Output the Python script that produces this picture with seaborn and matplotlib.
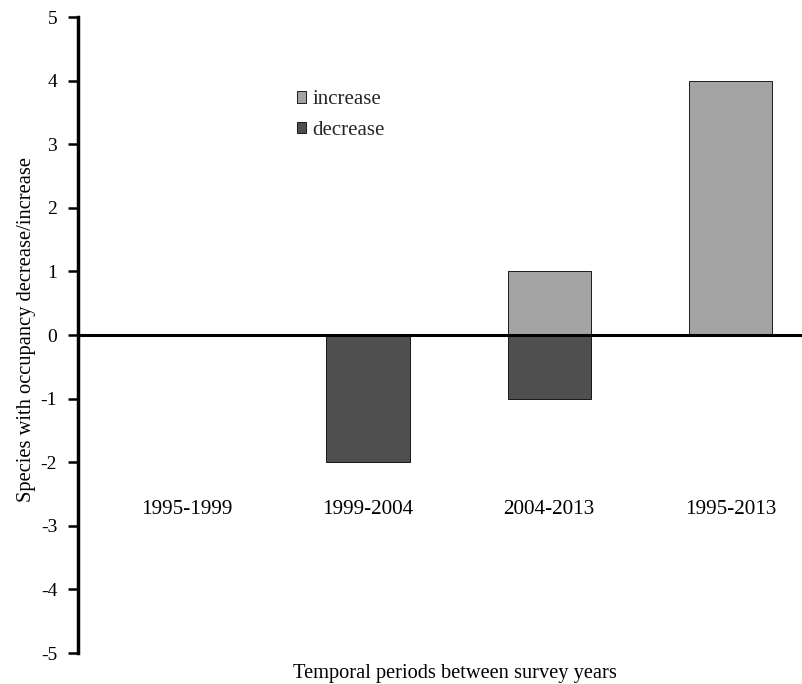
import matplotlib
matplotlib.use("Agg")
import matplotlib.pyplot as plt
import seaborn as sns
import pandas as pd

# data
periods = ['1995-1999', '1999-2004', '2004-2013', '1995-2013']
increase = [0, 0, 1, 4]
decrease = [0, -2, -1, 0]

df = pd.DataFrame({
    'period': periods * 2,
    'change': increase + decrease,
    'kind': ['increase'] * len(periods) + ['decrease'] * len(periods),
})

sns.set_theme(style="white")
plt.rcParams['font.family'] = ['Liberation Serif', 'DejaVu Serif']
plt.rcParams['axes.unicode_minus'] = False

fig = plt.figure(figsize=(8.03, 6.84), dpi=100)
ax = fig.add_axes([0.0971, 0.0453, 0.9029, 0.9297])

sns.barplot(
    data=df, x='period', y='change', hue='kind', order=periods,
    hue_order=['increase', 'decrease'],
    palette={'increase': '#a3a3a3', 'decrease': '#4f4f4f'},
    dodge=False, width=0.46, edgecolor='black', linewidth=0.6,
    ax=ax,
)

ax.set_ylim(-5, 5)
ax.set_xlim(-0.6, 3.4)
ax.set_yticks(range(-5, 6))

# axes styling: y spine on the left, x axis line drawn at zero
for s in ['top', 'right']:
    ax.spines[s].set_visible(False)
ax.spines['left'].set_linewidth(2.5)
ax.spines['left'].set_color('black')
ax.spines['bottom'].set_position(('data', 0))
ax.spines['bottom'].set_linewidth(2.2)
ax.spines['bottom'].set_color('black')

ax.tick_params(axis='y', left=True, direction='out', length=7, width=1.8,
               labelsize=14, pad=8, colors='black')
ax.tick_params(axis='x', bottom=False, length=0, pad=119, labelsize=15.2,
               colors='black')

ax.set_xlabel('Temporal periods between survey years', fontsize=14.7, color='black')
ax.xaxis.set_label_coords(0.52, -0.018)
ax.set_ylabel('Species with occupancy decrease/increase', fontsize=14.8, color='black')
ax.yaxis.set_label_coords(-0.058, 0.508)

handles, labels = ax.get_legend_handles_labels()
ax.legend(handles, labels, loc='center left', bbox_to_anchor=(0.302, 0.846),
          frameon=False, handlelength=0.45, handleheight=0.45, handletextpad=0.3,
          labelspacing=0.54, fontsize=15, borderpad=0, borderaxespad=0)

fig.savefig('out.png', dpi=100)
